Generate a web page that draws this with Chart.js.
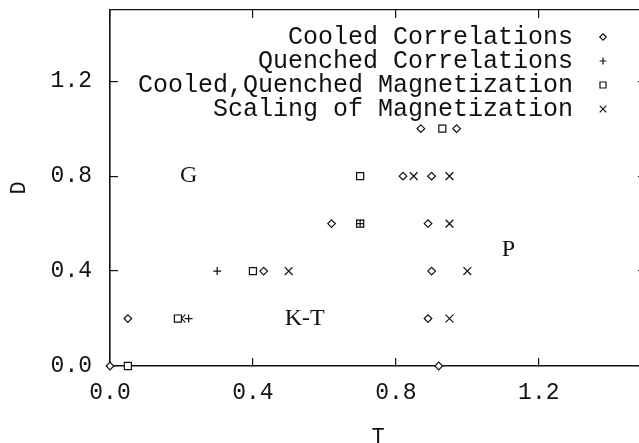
<!DOCTYPE html>
<html>
<head>
<meta charset="utf-8">
<script src="https://cdn.jsdelivr.net/npm/chart.js@4"></script>
<style>
  html, body { margin: 0; padding: 0; background: #fff; overflow: hidden; }
  #wrap { width: 660px; height: 455px; }
</style>
</head>
<body>
<div id="wrap"><canvas id="phase" width="660" height="455"></canvas></div>
<script>
// Diagram fase (T, D): titik-titik dari tiap metode pengukuran
const cooledCorrT = [0, 0.05, 0.43, 0.9, 0.62, 0.89, 0.82, 0.9, 0.87, 0.97, 0.92, 0.89];
const cooledCorrD = [0, 0.2, 0.4, 0.4, 0.6, 0.6, 0.8, 0.8, 1.0, 1.0, 0, 0.2];

const quenchedCorrT = [0, 0.22, 0.3, 0.7, 0.9];
const quenchedCorrD = [0, 0.2, 0.4, 0.6, 0.8];

const magnetT = [0.05, 0.19, 0.4, 0.7, 0.7, 0.93];
const magnetD = [0, 0.2, 0.4, 0.6, 0.8, 1.0];

const scalingT = [0.2, 0.95, 0.5, 1.0, 0.7, 0.95, 0.85, 0.95];
const scalingD = [0.2, 0.2, 0.4, 0.4, 0.6, 0.6, 0.8, 0.8];

const seriesLabels = [
  'Cooled Correlations',
  'Quenched Correlations',
  'Cooled,Quenched Magnetization',
  'Scaling of Magnetization'
];

// Nama daerah fase dan letaknya (koordinat T, D)
const regionNames = ['G', 'K-T', 'P'];
const regionT = [0.22, 0.545, 1.115];
const regionD = [0.8, 0.2, 0.49];

const tickValues = [0, 0.4, 0.8, 1.2];

function toPoints(xs, ys) {
  return xs.map((x, i) => ({ x: x, y: ys[i] }));
}

const INK = '#111';
const MONO = "'Liberation Mono', 'DejaVu Sans Mono', monospace";
const SERIF = "'Liberation Serif', 'DejaVu Serif', serif";

function markerDataset(label, pts, style, radius) {
  return {
    label: label,
    data: pts,
    pointStyle: style,
    pointRadius: radius,
    pointHoverRadius: radius,
    pointBorderWidth: 1.2,
    pointBorderColor: INK,
    pointBackgroundColor: '#fff',
    borderColor: INK,
    backgroundColor: '#fff',
    showLine: false,
    clip: false
  };
}

// Legenda teks rata kanan dengan simbol di sebelah kanan
const rightLegend = {
  id: 'rightLegend',
  afterDraw(chart) {
    const ctx = chart.ctx;
    const textRight = 573;
    const markX = 603;
    const top = 37;
    const step = 24;
    ctx.save();
    ctx.font = '25px ' + MONO;
    ctx.textAlign = 'right';
    ctx.textBaseline = 'middle';
    chart.data.datasets.forEach((ds, i) => {
      const y = top + i * step;
      ctx.fillStyle = INK;
      ctx.fillText(ds.label, textRight, y);
      ctx.strokeStyle = INK;
      ctx.fillStyle = '#fff';
      ctx.lineWidth = 1.2;
      Chart.helpers.drawPoint(ctx, { pointStyle: ds.pointStyle, radius: ds.pointRadius * 0.85, rotation: 0, borderWidth: 1.2 }, markX, y);
    });
    ctx.restore();
  }
};

// Label daerah fase di dalam area grafik
const regionText = {
  id: 'regionText',
  afterDatasetsDraw(chart) {
    const ctx = chart.ctx;
    const xs = chart.scales.x;
    const ys = chart.scales.y;
    ctx.save();
    ctx.font = '24px ' + SERIF;
    ctx.fillStyle = INK;
    ctx.textAlign = 'center';
    ctx.textBaseline = 'middle';
    regionNames.forEach((name, i) => {
      ctx.fillText(name, xs.getPixelForValue(regionT[i]), ys.getPixelForValue(regionD[i]));
    });
    ctx.restore();
  }
};

const frameGrid = {
  display: true,
  drawOnChartArea: false,
  drawTicks: true,
  tickLength: -8,
  color: INK,
  lineWidth: 1.2
};

function fixedTicks(axis) {
  axis.ticks = tickValues.map(v => ({ value: v }));
}

// ukuran sumbu dikunci supaya area plot tidak bergeser
function lockBox(w, h) {
  return function (s) {
    if (w !== null) s.width = w;
    if (h !== null) s.height = h;
    s.paddingTop = 0;
    s.paddingBottom = 0;
    s.paddingLeft = 0;
    s.paddingRight = 0;
  };
}

new Chart(document.getElementById('phase'), {
  type: 'scatter',
  data: {
    datasets: [
      markerDataset(seriesLabels[0], toPoints(cooledCorrT, cooledCorrD), 'rectRot', 3.8),
      markerDataset(seriesLabels[1], toPoints(quenchedCorrT, quenchedCorrD), 'cross', 4),
      markerDataset(seriesLabels[2], toPoints(magnetT, magnetD), 'rect', 5),
      markerDataset(seriesLabels[3], toPoints(scalingT, scalingD), 'crossRot', 5.5)
    ]
  },
  options: {
    responsive: false,
    animation: false,
    layout: { padding: { left: 0, top: 10, right: 14, bottom: 0 } },
    plugins: {
      legend: { display: false },
      tooltip: { enabled: false }
    },
    scales: {
      x: {
        type: 'linear',
        position: 'bottom',
        min: 0,
        max: 1.5,
        afterBuildTicks: fixedTicks,
        afterFit: lockBox(null, 89),
        grid: frameGrid,
        border: { display: true, color: INK, width: 1.6 },
        ticks: {
          color: INK,
          padding: 21,
          maxRotation: 0,
          font: { family: MONO, size: 23 },
          callback: v => v.toFixed(1)
        },
        title: {
          display: true,
          text: 'T',
          color: INK,
          font: { family: MONO, size: 22 },
          padding: { top: 0, bottom: 5 }
        }
      },
      y: {
        type: 'linear',
        position: 'left',
        min: 0,
        max: 1.5,
        afterBuildTicks: fixedTicks,
        afterFit: lockBox(110, null),
        grid: frameGrid,
        border: { display: true, color: INK, width: 1.6 },
        ticks: {
          color: INK,
          padding: 26,
          font: { family: MONO, size: 23 },
          callback: v => v.toFixed(1)
        },
        title: {
          display: true,
          text: 'D',
          color: INK,
          font: { family: MONO, size: 22 },
          padding: { top: 6, bottom: 0 }
        }
      },
      xTop: {
        type: 'linear',
        position: 'top',
        min: 0,
        max: 1.5,
        afterBuildTicks: fixedTicks,
        afterFit: lockBox(null, 0),
        grid: frameGrid,
        border: { display: true, color: INK, width: 1.2 },
        ticks: { display: false }
      },
      yRight: {
        type: 'linear',
        position: 'right',
        min: 0,
        max: 1.5,
        afterBuildTicks: fixedTicks,
        afterFit: lockBox(0, null),
        grid: frameGrid,
        border: { display: true, color: INK, width: 1.2 },
        ticks: { display: false }
      }
    }
  },
  plugins: [rightLegend, regionText]
});
</script>
</body>
</html>
